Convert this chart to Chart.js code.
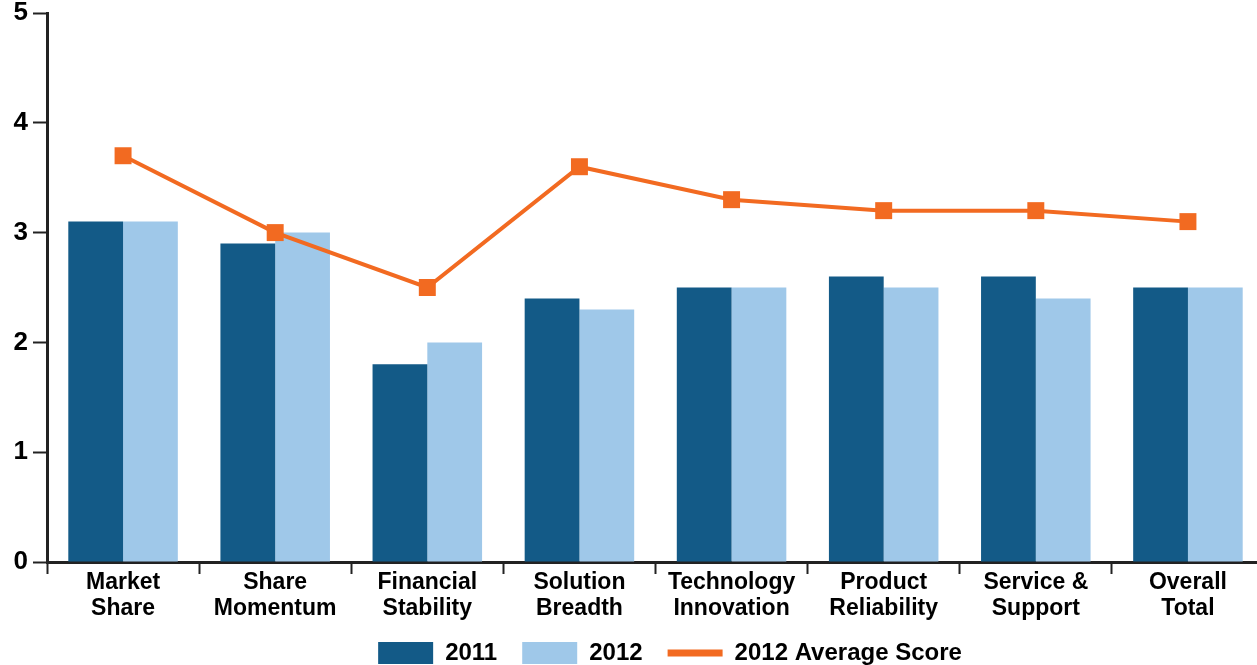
<!DOCTYPE html>
<html>
<head>
<meta charset="utf-8">
<script src="https://cdn.jsdelivr.net/npm/chart.js@4"></script>
<style>
  html, body { margin: 0; padding: 0; background: #fff; }
  #wrap { width: 1257px; height: 665px; overflow: hidden; position: relative; }
</style>
</head>
<body>
<div id="wrap"><canvas id="myChart" width="1264" height="665"></canvas></div>
<script>
const categories = [
    ["Market", "Share"],
    ["Share", "Momentum"],
    ["Financial", "Stability"],
    ["Solution", "Breadth"],
    ["Technology", "Innovation"],
    ["Product", "Reliability"],
    ["Service &", "Support"],
    ["Overall", "Total"]
];
const scores2011 = [3.1, 2.9, 1.8, 2.4, 2.5, 2.6, 2.6, 2.5];
const scores2012 = [3.1, 3.0, 2.0, 2.3, 2.5, 2.5, 2.4, 2.5];
const average2012 = [3.7, 3.0, 2.5, 3.6, 3.3, 3.2, 3.2, 3.1];
const yTicks = [0, 1, 2, 3, 4, 5];

const DARK_BLUE = "#135a87";
const LIGHT_BLUE = "#9fc8e9";
const ORANGE = "#f26a21";
const FONT = "'Liberation Sans', Arial, sans-serif";

// nudge the legend, the source chart's legend sits a bit right of centre
const legendShift = {
    id: "legendShift",
    afterLayout(chart) {
        const legend = chart.legend;
        if (!legend || legend._shifted) return;
        const draw = legend.draw.bind(legend);
        legend.draw = function() {
            chart.ctx.save();
            chart.ctx.translate(38, -6);
            draw();
            chart.ctx.restore();
        };
        legend._shifted = true;
    }
};

const ctx = document.getElementById("myChart").getContext("2d");

new Chart(ctx, {
    type: "bar",
    data: {
        labels: categories,
        datasets: [
            {
                label: "2011",
                data: scores2011,
                backgroundColor: DARK_BLUE,
                order: 1,
                categoryPercentage: 0.72,
                barPercentage: 1
            },
            {
                label: "2012",
                data: scores2012,
                backgroundColor: LIGHT_BLUE,
                order: 1,
                categoryPercentage: 0.72,
                barPercentage: 1
            },
            {
                label: "2012 Average Score",
                type: "line",
                data: average2012,
                borderColor: ORANGE,
                backgroundColor: ORANGE,
                borderWidth: 4,
                pointStyle: "rect",
                pointRadius: 12,
                pointBorderWidth: 0,
                tension: 0,
                fill: false,
                order: 0
            }
        ]
    },
    plugins: [legendShift],
    options: {
        responsive: false,
        animation: false,
        layout: { autoPadding: false, padding: { top: 13, right: 0, left: 0, bottom: -16 } },
        plugins: {
            tooltip: { enabled: false },
            legend: {
                position: "bottom",
                labels: {
                    usePointStyle: true,
                    pointStyleWidth: 55,
                    boxHeight: 22,
                    padding: 25,
                    color: "#000",
                    font: { family: FONT, size: 24, weight: "bold" },
                    generateLabels: function(chart) {
                        return chart.data.datasets.map((ds, i) => ({
                            text: ds.label,
                            fillStyle: ds.backgroundColor,
                            strokeStyle: ds.type === "line" ? ORANGE : ds.backgroundColor,
                            lineWidth: ds.type === "line" ? 7 : 0,
                            pointStyle: ds.type === "line" ? "line" : "rect",
                            fontColor: "#000",
                            hidden: false,
                            datasetIndex: i
                        }));
                    }
                }
            }
        },
        scales: {
            x: {
                offset: true,
                border: { display: true, color: "#222", width: 3 },
                grid: {
                    offset: true,
                    drawOnChartArea: false,
                    drawTicks: true,
                    tickLength: 12,
                    tickWidth: 2,
                    color: "#222"
                },
                ticks: {
                    color: "#000",
                    padding: -4,
                    maxRotation: 0,
                    autoSkip: false,
                    font: { family: FONT, size: 23, weight: "bold", lineHeight: 1.13 }
                },
                afterFit: function(scale) { scale.height = 60; }
            },
            y: {
                min: 0,
                max: 5,
                border: { display: true, color: "#222", width: 3 },
                grid: {
                    drawOnChartArea: false,
                    drawTicks: true,
                    tickLength: 14,
                    tickWidth: 2,
                    color: "#222"
                },
                afterBuildTicks: function(scale) {
                    scale.ticks = yTicks.map(v => ({ value: v }));
                },
                ticks: {
                    color: "#000",
                    padding: 5,
                    font: { family: FONT, size: 26, weight: "bold" }
                },
                afterFit: function(scale) {
                    scale.width = 47;
                    scale.paddingTop = 0;
                    scale.paddingBottom = 0;
                }
            }
        }
    }
});
</script>
</body>
</html>
